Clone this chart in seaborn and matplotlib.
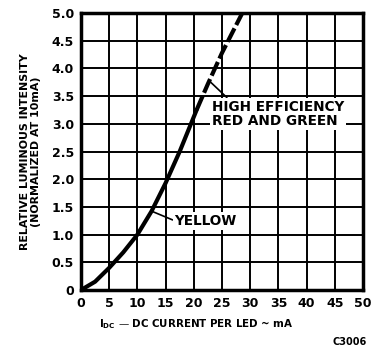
import numpy as np
import matplotlib
matplotlib.use("Agg")
import matplotlib.pyplot as plt
import seaborn as sns

# curva (mA, intensidad relativa)
corriente_solida = [0, 2.5, 5, 7.5, 10, 12.5, 15, 17.5, 20.5]
intensidad_solida = [0, 0.15, 0.4, 0.68, 1.0, 1.42, 1.93, 2.5, 3.25]
corriente_punteada = [20.5, 22.5, 25, 27.5, 28.6]
intensidad_punteada = [3.25, 3.72, 4.28, 4.78, 5.0]

xticks = [0, 5, 10, 15, 20, 25, 30, 35, 40, 45, 50]
yticks = [0, 0.5, 1.0, 1.5, 2.0, 2.5, 3.0, 3.5, 4.0, 4.5, 5.0]
ytick_labels = ["0", "0.5", "1.0", "1.5", "2.0", "2.5", "3.0", "3.5", "4.0", "4.5", "5.0"]

sns.set_style("white")
plt.rcParams["font.family"] = ["DejaVu Sans"]
plt.rcParams["font.weight"] = "bold"
plt.rcParams["mathtext.default"] = "bf"
plt.rcParams["text.color"] = "black"
plt.rcParams["axes.labelcolor"] = "black"
plt.rcParams["xtick.color"] = "black"
plt.rcParams["ytick.color"] = "black"

fig = plt.figure(figsize=(3.86, 3.56), dpi=100)
ax = fig.add_axes([0.2098, 0.1854, 0.7306, 0.778])

sns.lineplot(x=corriente_solida, y=intensidad_solida, ax=ax, color="black",
             linewidth=3, zorder=5)
sns.lineplot(x=corriente_punteada, y=intensidad_punteada, ax=ax, color="black",
             linewidth=3, linestyle=(0, (3.6, 0.9)), zorder=5)

ax.set_xlim(0, 50)
ax.set_ylim(0, 5)
ax.set_xticks(xticks)
ax.set_yticks(yticks)
ax.set_yticklabels(ytick_labels)
ax.grid(True, color="black", linewidth=1.4)
ax.tick_params(length=0, labelsize=9, pad=5, colors="black")
for lab in ax.get_xticklabels() + ax.get_yticklabels():
    lab.set_fontweight("bold")
for s in ax.spines.values():
    s.set_color("black")
    s.set_linewidth(2.5)
    s.set_zorder(6)

caja = dict(facecolor="white", edgecolor="none", pad=1.5)
ax.annotate("HIGH EFFICIENCY\nRED AND GREEN", xy=(22.9, 3.76), xytext=(23.2, 3.18),
            fontsize=9.8, fontweight="bold", ha="left", va="center",
            linespacing=1.05, bbox=caja, color="black",
            arrowprops=dict(arrowstyle="-", color="black", lw=1.2,
                            shrinkA=0, shrinkB=0, relpos=(0.13, 1.0)), zorder=7)
ax.annotate("YELLOW", xy=(12.6, 1.42), xytext=(16.6, 1.25),
            fontsize=9.8, fontweight="bold", ha="left", va="center", bbox=caja,
            color="black",
            arrowprops=dict(arrowstyle="-", color="black", lw=1.2,
                            shrinkA=0, shrinkB=0, relpos=(0.0, 0.5)), zorder=7)

ax.set_ylabel("RELATIVE LUMINOUS INTENSITY\n(NORMALIZED AT 10mA)", fontsize=7.9,
              fontweight="bold", labelpad=8, linespacing=1.1, color="black")
ax.set_xlabel(r"$\mathregular{I_{DC}}$ — DC CURRENT PER LED ~ mA",
              fontsize=7.4, fontweight="bold", color="black")
ax.xaxis.set_label_coords(0.41, -0.1)
fig.text(0.95, 0.04, "C3006", fontsize=7, ha="right", va="center", color="black")

fig.savefig("out.png", dpi=100)
